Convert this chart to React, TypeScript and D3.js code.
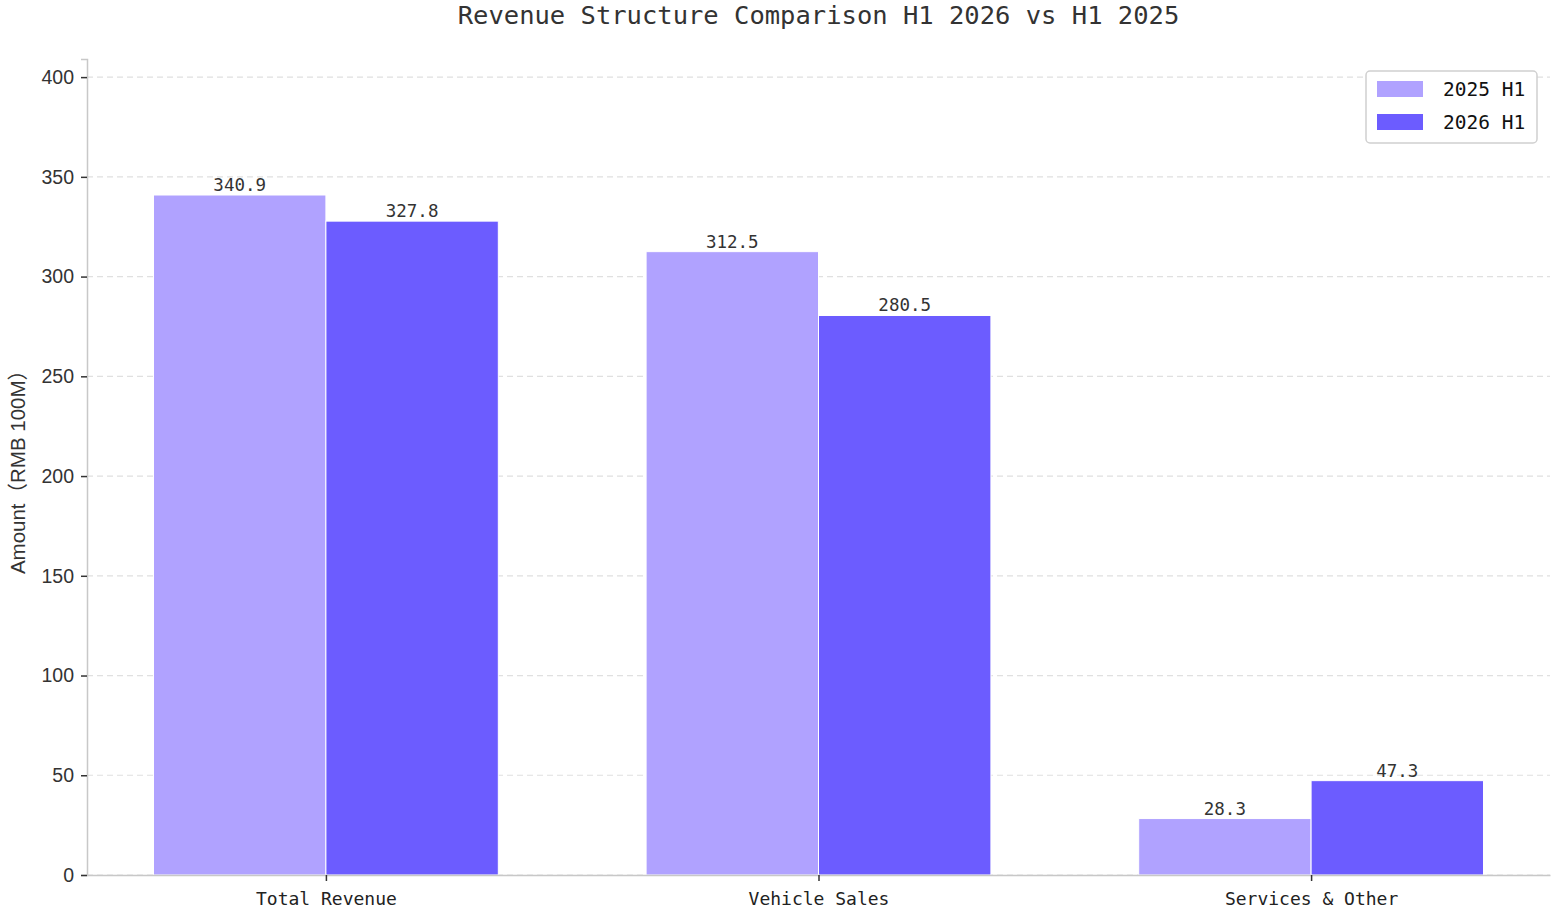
import React, { useRef, useEffect } from "react";
import * as d3 from "d3";

const categories = ["Total Revenue", "Vehicle Sales", "Services & Other"];
const seriesNames = ["2025 H1", "2026 H1"];
const values2025 = [340.9, 312.5, 28.3];
const values2026 = [327.8, 280.5, 47.3];
const yTicks = [0, 50, 100, 150, 200, 250, 300, 350, 400];
const colors = ["#B0A2FF", "#6C5CFF"];

const W = 1555;
const H = 913;
const margin = { top: 59, right: 5, bottom: 38, left: 87 };
const mono = "'DejaVu Sans Mono', 'Liberation Mono', monospace";
const sans = "'Liberation Sans', Arial, 'Noto Sans CJK SC', sans-serif";

const App: React.FC = () => {
  const svgRef = useRef<SVGSVGElement | null>(null);

  useEffect(() => {
    if (!svgRef.current) return;
    const svg = d3.select(svgRef.current);
    svg.selectAll("*").remove();

    const barW = 0.35;
    const maxV = d3.max([...values2025, ...values2026])!;
    const pad = (categories.length - 1 + 2 * barW) * 0.05;

    const x = d3
      .scaleLinear()
      .domain([-barW - pad, categories.length - 1 + barW + pad])
      .range([margin.left, W - margin.right]);
    const y = d3
      .scaleLinear()
      .domain([0, maxV * 1.2])
      .range([H - margin.bottom, margin.top]);

    // grid
    svg
      .append("g")
      .selectAll("line")
      .data(yTicks)
      .join("line")
      .attr("x1", x.range()[0])
      .attr("x2", x.range()[1])
      .attr("y1", (d) => y(d))
      .attr("y2", (d) => y(d))
      .attr("stroke", "#e0e0e0")
      .attr("stroke-width", 1.2)
      .attr("stroke-dasharray", "6,4");

    // bars
    const series = [values2025, values2026];
    series.forEach((vals, si) => {
      const g = svg.append("g");
      g.selectAll("rect")
        .data(vals)
        .join("rect")
        .attr("x", (d, i) => x(i - barW + si * barW))
        .attr("width", x(barW) - x(0))
        .attr("y", (d) => y(d))
        .attr("height", (d) => y(0) - y(d))
        .attr("fill", colors[si])
        .attr("stroke", "white")
        .attr("stroke-width", 1);

      g.selectAll("text")
        .data(vals)
        .join("text")
        .attr("x", (d, i) => x(i - barW / 2 + si * barW))
        .attr("y", (d) => y(d) - 4)
        .attr("text-anchor", "middle")
        .attr("font-family", mono)
        .attr("font-size", 17.5)
        .attr("fill", "#333")
        .text((d) => d.toFixed(1));
    });

    // axes
    const yAxis = d3
      .axisLeft(y)
      .tickValues(yTicks)
      .tickSize(6)
      .tickPadding(7);
    const ga = svg
      .append("g")
      .attr("transform", `translate(${margin.left},0)`)
      .call(yAxis);
    ga.select(".domain").attr("stroke", "#c8c8c8").attr("stroke-width", 1.5);
    ga.selectAll(".tick line").attr("stroke", "#333").attr("stroke-width", 1.5);
    ga.selectAll(".tick text")
      .attr("font-family", sans)
      .attr("font-size", 19.5)
      .attr("fill", "#333");

    const xAxis = d3
      .axisBottom(x)
      .tickValues(categories.map((_, i) => i))
      .tickFormat((d) => categories[d as number])
      .tickSize(6)
      .tickSizeOuter(0)
      .tickPadding(11);
    const gx = svg
      .append("g")
      .attr("transform", `translate(0,${H - margin.bottom})`)
      .call(xAxis);
    gx.select(".domain").attr("stroke", "#c8c8c8").attr("stroke-width", 1.5);
    gx.selectAll(".tick line").attr("stroke", "#333").attr("stroke-width", 1.5);
    gx.selectAll(".tick text")
      .attr("font-family", mono)
      .attr("font-size", 18)
      .attr("fill", "#222");

    // y label
    svg
      .append("text")
      .attr(
        "transform",
        `translate(25,${(margin.top + H - margin.bottom) / 2}) rotate(-90)`
      )
      .attr("text-anchor", "middle")
      .attr("font-family", sans)
      .attr("font-size", 20.5)
      .attr("fill", "#333")
      .text("Amount（RMB 100M）");

    // title
    svg
      .append("text")
      .attr("x", (x.range()[0] + x.range()[1]) / 2)
      .attr("y", 24)
      .attr("text-anchor", "middle")
      .attr("font-family", mono)
      .attr("font-size", 25.5)
      .attr("fill", "#333")
      .text("Revenue Structure Comparison H1 2026 vs H1 2025");

    // legend
    const lg = svg.append("g").attr("transform", "translate(1366,71)");
    lg.append("rect")
      .attr("width", 171)
      .attr("height", 72)
      .attr("rx", 4)
      .attr("fill", "white")
      .attr("stroke", "#d0d0d0")
      .attr("stroke-width", 1.5);
    seriesNames.forEach((name, i) => {
      lg.append("rect")
        .attr("x", 11)
        .attr("y", 10 + i * 33)
        .attr("width", 46)
        .attr("height", 16)
        .attr("fill", colors[i]);
      lg.append("text")
        .attr("x", 77)
        .attr("y", 18 + i * 33)
        .attr("dy", "0.35em")
        .attr("font-family", mono)
        .attr("font-size", 19.5)
        .attr("fill", "#111")
        .text(name);
    });
  }, []);

  return (
    <svg
      ref={svgRef}
      width={W}
      height={H}
      style={{ position: "absolute", left: 0, top: 0, background: "white" }}
    />
  );
};

export default App;
